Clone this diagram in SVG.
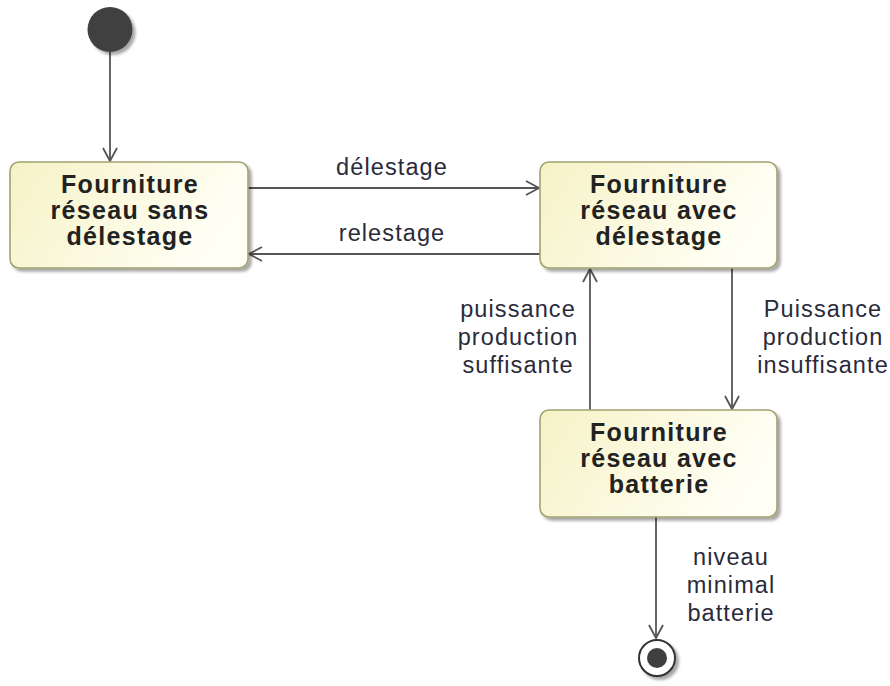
<svg xmlns="http://www.w3.org/2000/svg" width="890" height="686" viewBox="0 0 890 686">
<defs>
<linearGradient id="g" x1="0" y1="0" x2="1" y2="0.3">
<stop offset="0" stop-color="#f6f2c6"/>
<stop offset="1" stop-color="#fffff6"/>
</linearGradient>
<filter id="sh" x="-10%" y="-10%" width="130%" height="130%">
<feGaussianBlur in="SourceAlpha" stdDeviation="1.5"/>
<feOffset dx="3" dy="3" result="b"/>
<feComponentTransfer><feFuncA type="linear" slope="0.35"/></feComponentTransfer>
<feMerge><feMergeNode/><feMergeNode in="SourceGraphic"/></feMerge>
</filter>
<marker id="arr" markerUnits="userSpaceOnUse" markerWidth="30" markerHeight="30" viewBox="-15 -15 30 30" refX="0" refY="0" orient="auto">
<path d="M-13,-7 L0,0 L-13,7" fill="none" stroke="#555" stroke-width="1.8"/>
</marker>
</defs>
<style>
.st{fill:url(#g);stroke:#a3a170;stroke-width:1.6;filter:url(#sh)}
.t{font-family:"Liberation Sans",Arial,sans-serif;font-size:25px;font-weight:bold;fill:#222;text-anchor:middle;letter-spacing:1.3px}
.l{font-family:"Liberation Sans",Arial,sans-serif;font-size:23.5px;fill:#2a2a3a;text-anchor:middle;letter-spacing:1.1px}
.c{fill:none;stroke:#555;stroke-width:1.8;marker-end:url(#arr)}
</style>
<rect width="890" height="686" fill="#fff"/>
<g id="connectors">
<line class="c" x1="110" y1="52" x2="110" y2="161"/>
<line class="c" x1="248" y1="188" x2="539" y2="188"/>
<line class="c" x1="540" y1="254" x2="249" y2="254"/>
<line class="c" x1="590" y1="410" x2="590" y2="269"/>
<line class="c" x1="732" y1="268" x2="732" y2="409"/>
<line class="c" x1="656" y1="517" x2="656" y2="638"/>
<text class="l" x="392" y="175">délestage</text>
<text class="l" x="392" y="241">relestage</text>
<text class="l" x="518" y="317">puissance</text>
<text class="l" x="518" y="345">production</text>
<text class="l" x="518" y="373">suffisante</text>
<text class="l" x="823" y="317">Puissance</text>
<text class="l" x="823" y="345">production</text>
<text class="l" x="823" y="373">insuffisante</text>
<text class="l" x="731" y="565">niveau</text>
<text class="l" x="731" y="593">minimal</text>
<text class="l" x="731" y="621">batterie</text>
</g>
<g id="initial">
<circle cx="110" cy="29.5" r="22.5" fill="#3f3f3f" filter="url(#sh)"/>
</g>
<g id="s1">
<rect class="st" x="10" y="162" width="238" height="106" rx="9"/>
<text class="t" x="130" y="193">Fourniture</text>
<text class="t" x="130" y="219">réseau sans</text>
<text class="t" x="130" y="245">délestage</text>
</g>
<g id="s2">
<rect class="st" x="540" y="162" width="237" height="106" rx="9"/>
<text class="t" x="659" y="193">Fourniture</text>
<text class="t" x="659" y="219">réseau avec</text>
<text class="t" x="659" y="245">délestage</text>
</g>
<g id="s3">
<rect class="st" x="540" y="410" width="237" height="107" rx="9"/>
<text class="t" x="659" y="441">Fourniture</text>
<text class="t" x="659" y="467">réseau avec</text>
<text class="t" x="659" y="493">batterie</text>
</g>
<g id="final">
<circle cx="657" cy="658" r="18" fill="#fff" stroke="#333" stroke-width="2" filter="url(#sh)"/>
<circle cx="657" cy="658" r="10" fill="#3f3f3f"/>
</g>
</svg>
